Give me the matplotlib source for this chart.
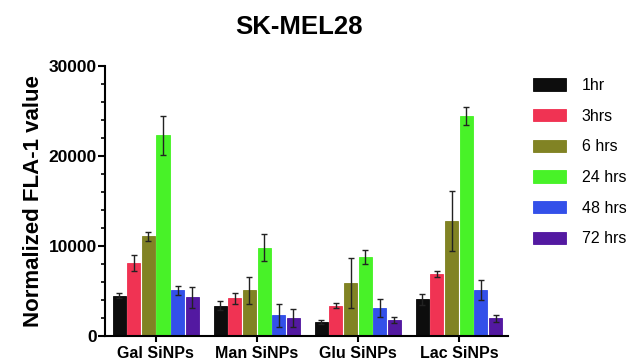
import matplotlib.pyplot as plt
import numpy as np
from matplotlib.ticker import MultipleLocator

plt.rcParams['font.family'] = ['Liberation Sans', 'DejaVu Sans']
plt.rcParams['font.weight'] = 'bold'

groups = ["Gal SiNPs", "Man SiNPs", "Glu SiNPs", "Lac SiNPs"]
times = ["1hr", "3hrs", "6 hrs", "24 hrs", "48 hrs", "72 hrs"]
colors = ["#000000", "#f0284a", "#7a7c18", "#3ef21c", "#2846e8", "#4a0c9c"]

# mean values per time point (Gal, Man, Glu, Lac)
v_1hr = [4500, 3400, 1600, 4100]
v_3hrs = [8100, 4200, 3400, 6900]
v_6hrs = [11100, 5100, 5900, 12800]
v_24hrs = [22300, 9800, 8800, 24500]
v_48hrs = [5100, 2300, 3100, 5100]
v_72hrs = [4300, 2000, 1800, 2000]

# error bars
e_1hr = [300, 500, 200, 600]
e_3hrs = [900, 600, 300, 300]
e_6hrs = [500, 1500, 2800, 3300]
e_24hrs = [2200, 1500, 800, 1000]
e_48hrs = [500, 1300, 1000, 1100]
e_72hrs = [1200, 1000, 300, 400]

vals = [v_1hr, v_3hrs, v_6hrs, v_24hrs, v_48hrs, v_72hrs]
errs = [e_1hr, e_3hrs, e_6hrs, e_24hrs, e_48hrs, e_72hrs]

fig = plt.figure(figsize=(6.3, 3.63), dpi=100)
ax = fig.add_axes([0.167, 0.074, 0.64, 0.744])

x = np.arange(len(groups))
step = 0.145
w = 0.13
for i in range(len(times)):
    pos = x + (i - 2.5) * step
    ax.bar(pos, vals[i], width=w, color=colors[i], label=times[i],
           edgecolor=colors[i], linewidth=0.6, alpha=0.95)
    ax.errorbar(pos, vals[i], yerr=errs[i], fmt='none', ecolor='#222222',
                elinewidth=1.0, capsize=2, capthick=1.0)

ax.set_xlim(-0.5, 3.49)
ax.set_ylim(0, 30000)
ax.set_xticks(x)
ax.set_xticklabels(groups, fontsize=11.5, fontweight='bold')
ax.set_yticks([0, 10000, 20000, 30000])
ax.yaxis.set_minor_locator(MultipleLocator(2000))
ax.tick_params(axis='y', labelsize=12.5, width=1.5, length=5, pad=1)
ax.tick_params(axis='y', which='minor', width=1.2, length=3)
ax.tick_params(axis='x', width=1.5, length=4, pad=3)
for lab in ax.get_yticklabels():
    lab.set_fontweight('bold')
ax.spines['top'].set_visible(False)
ax.spines['right'].set_visible(False)
ax.spines['left'].set_linewidth(1.5)
ax.spines['bottom'].set_linewidth(1.5)

ax.set_ylabel("Normalized FLA-1 value", fontsize=16, fontweight='bold', labelpad=3)
fig.text(0.475, 0.925, "SK-MEL28", ha='center', va='center', fontsize=18.5, fontweight='bold')

leg = ax.legend(loc='upper left', bbox_to_anchor=(0.846, 0.785),
                bbox_transform=fig.transFigure, frameon=False, borderpad=0,
                borderaxespad=0, fontsize=11.5, handlelength=2.06,
                handleheight=0.8, labelspacing=0.98, handletextpad=1.0)
for t in leg.get_texts():
    t.set_fontweight('normal')

fig.savefig("out.png", dpi=100)
